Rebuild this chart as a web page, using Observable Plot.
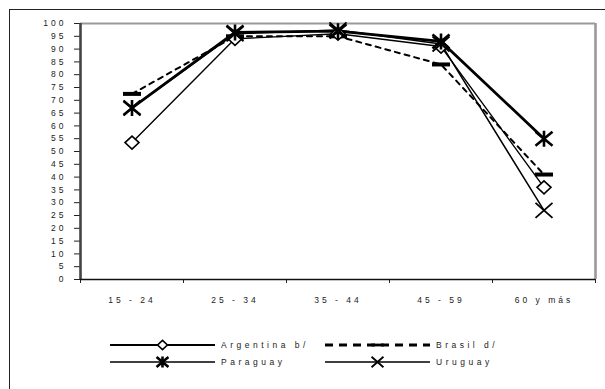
<!DOCTYPE html>
<html>
<head>
<meta charset="utf-8">
<script src="https://cdn.jsdelivr.net/npm/d3@7"></script>
<script src="https://cdn.jsdelivr.net/npm/@observablehq/plot@0.6"></script>
<style>
  html, body { margin: 0; padding: 0; background: #fff; }
  body { width: 605px; height: 389px; overflow: hidden; position: relative; font-family: "Liberation Sans", Arial, sans-serif; }
  #frame { position: absolute; left: 9px; top: 9px; width: 700px; height: 500px; border: 1px solid #222; box-sizing: border-box; }
  #chart { position: absolute; left: 0; top: 0; }
  #legend { position: absolute; left: 0; top: 330px; }
</style>
</head>
<body>
<div id="frame"></div>
<div id="chart"></div>
<div id="legend"></div>
<script>
// ---- data ----
const categories = ["15 - 24", "25 - 34", "35 - 44", "45 - 59", "60 y más"];
const argentina = [53.5, 94, 96, 91, 36];
const brasil = [72.5, 95, 95, 84, 41];
const paraguay = [67, 96.5, 97, 93, 55];
const uruguay = [67, 96, 97.5, 92, 27];
const seriesNames = ["Argentina b/", "Brasil d/", "Paraguay", "Uruguay"];
const yTicks = [0, 5, 10, 15, 20, 25, 30, 35, 40, 45, 50, 55, 60, 65, 70, 75, 80, 85, 90, 95, 100];

const seriesValues = [argentina, brasil, paraguay, uruguay];
const rows = seriesNames.flatMap((name, s) =>
  seriesValues[s].map((v, i) => ({series: name, i, value: v})));
const bySeries = name => rows.filter(d => d.series === name);

// ---- custom marker shapes ----
function makeSymbols(k) {
  return {
    diamond: {draw(c) { c.moveTo(0, -6.5 * k); c.lineTo(7 * k, 0); c.lineTo(0, 6.5 * k); c.lineTo(-7 * k, 0); c.closePath(); }},
    dash: {draw(c) { c.moveTo(-9 * k, -2 * k); c.lineTo(9 * k, -2 * k); c.lineTo(9 * k, 2 * k); c.lineTo(-9 * k, 2 * k); c.closePath(); }},
    asterisk: {draw(c) {
      c.moveTo(-8.5 * k, -7 * k); c.lineTo(8.5 * k, 7 * k);
      c.moveTo(-8.5 * k, 7 * k); c.lineTo(8.5 * k, -7 * k);
      c.moveTo(0, -8 * k); c.lineTo(0, 8 * k);
    }},
    times: {draw(c) {
      c.moveTo(-8.5 * k, -7.5 * k); c.lineTo(8.5 * k, 7.5 * k);
      c.moveTo(-8.5 * k, 7.5 * k); c.lineTo(8.5 * k, -7.5 * k);
    }}
  };
}
const sym = makeSymbols(1);

const styles = {
  "Argentina b/": {stroke: "#000", strokeWidth: 1.4, dash: null, symbol: "diamond", fill: "#fff", sw: 1.6},
  "Brasil d/": {stroke: "#000", strokeWidth: 2, dash: "5,5", symbol: "dash", fill: "#000", sw: 0},
  "Paraguay": {stroke: "#000", strokeWidth: 2.8, dash: null, symbol: "asterisk", fill: "none", sw: 2.6},
  "Uruguay": {stroke: "#000", strokeWidth: 1.5, dash: null, symbol: "times", fill: "none", sw: 1.8}
};

const bounds = categories.map((_, i) => i - 0.5).concat([categories.length - 0.5]);
const centers = categories.map((_, i) => i);

const order = ["Brasil d/", "Argentina b/", "Uruguay", "Paraguay"];
const marks = [
  Plot.ruleY([100], {stroke: "#999", strokeWidth: 2}),
  Plot.ruleX([categories.length - 0.5], {stroke: "#999", strokeWidth: 2.6}),
  Plot.axisY({ticks: yTicks, tickSize: 6, tickPadding: 8, stroke: "#222", fill: "#222", label: null, tickFormat: d => String(d)}),
  Plot.axisX({ticks: bounds, tickSize: 4, stroke: "#222", label: null, tickFormat: () => ""}),
  Plot.axisX({ticks: centers, tickSize: 0, tickPadding: 17, fill: "#222", label: null, tickFormat: i => categories[i]}),
  Plot.ruleX([-0.5], {stroke: "#444", strokeWidth: 2.6}),
  Plot.ruleY([0], {stroke: "#111", strokeWidth: 1.3})
];
for (const name of order) {
  const st = styles[name];
  marks.push(Plot.line(bySeries(name), {x: "i", y: "value", stroke: st.stroke, strokeWidth: st.strokeWidth, strokeDasharray: st.dash}));
}
for (const name of order) {
  const st = styles[name];
  marks.push(Plot.dot(bySeries(name), {x: "i", y: "value", r: 5, symbol: sym[st.symbol], fill: st.fill, stroke: "#000", strokeWidth: st.sw}));
}

const chart = Plot.plot({
  width: 605,
  height: 320,
  marginLeft: 80,
  marginRight: 10,
  marginTop: 23,
  marginBottom: 41,
  x: {domain: [-0.5, categories.length - 0.5], label: null},
  y: {domain: [0, 100], label: null},
  style: {fontFamily: "'Liberation Sans', Arial, sans-serif", fontSize: "8.5px", letterSpacing: "3px", color: "#222", background: "transparent", overflow: "visible"},
  marks
});
document.getElementById("chart").appendChild(chart);

// ---- legend ----
const lsym = makeSymbols(0.7);
const leg = d3.select("#legend").append("svg").attr("width", 605).attr("height", 59)
  .style("font-family", "'Liberation Sans', Arial, sans-serif").style("font-size", "8.5px").style("letter-spacing", "3.5px");
const legItems = [
  {name: "Argentina b/", x0: 110, x1: 215, y: 15},
  {name: "Brasil d/", x0: 325, x1: 430, y: 15},
  {name: "Paraguay", x0: 110, x1: 215, y: 32},
  {name: "Uruguay", x0: 325, x1: 430, y: 32}
];
for (const it of legItems) {
  const st = styles[it.name];
  leg.append("line").attr("x1", it.x0).attr("x2", it.x1).attr("y1", it.y).attr("y2", it.y)
    .attr("stroke", "#000").attr("stroke-width", it.name === "Brasil d/" ? 3 : (it.name === "Argentina b/" ? 2 : 1.5))
    .attr("stroke-dasharray", it.name === "Brasil d/" ? "8,6" : null);
  const path = d3.path();
  lsym[st.symbol].draw(path);
  leg.append("path").attr("d", path.toString())
    .attr("transform", `translate(${(it.x0 + it.x1) / 2},${it.y})`)
    .attr("fill", st.fill).attr("stroke", "#000").attr("stroke-width", st.sw);
  leg.append("text").attr("x", it.x1 + 6).attr("y", it.y + 3).attr("fill", "#222").text(it.name);
}
</script>
</body>
</html>
